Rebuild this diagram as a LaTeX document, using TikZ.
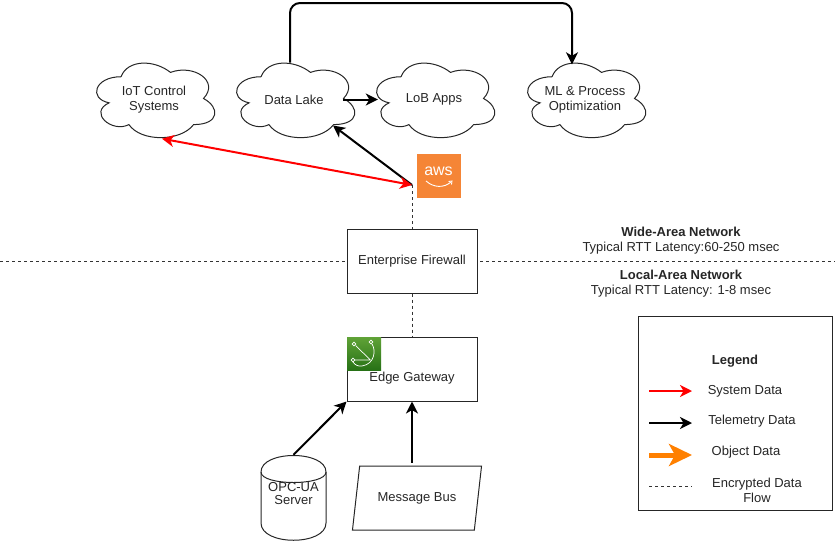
\documentclass[tikz,border=0pt]{standalone}
\usepackage{fontspec}
\setmainfont{Liberation Sans}
\usepackage{xcolor}
\usepackage{tikz}
\usetikzlibrary{arrows.meta}
\usetikzlibrary{shapes.geometric}

\definecolor{awsorange}{HTML}{F58536}
\definecolor{greenlight}{HTML}{60A337}
\definecolor{greendark}{HTML}{277116}
\definecolor{inkgray}{HTML}{262626}

\tikzset{
	label/.style={font=\fontsize{13}{15}\selectfont,text=inkgray,align=center},
	box/.style={draw=inkgray,line width=1pt,fill=white,label},
	cloudtext/.style={label,minimum width=100pt,minimum height=78pt},
	tip/.style={-{Stealth[length=12pt,width=12pt,inset=3.5pt]}},
	feed/.style={black,line width=2pt,tip},
	sysfeed/.style={red,line width=2pt,tip},
	objfeed/.style={orange,line width=5pt,-{Stealth[length=23pt,width=22pt,inset=6pt]}},
	tunnel/.style={black!80,line width=1pt,dash pattern=on 3pt off 3pt},
}

\begin{document}
\begin{tikzpicture}[x=1pt,y=-1pt]
	\useasboundingbox (0,0) rectangle (835,544);
	% clouds
	\foreach \x/\name/\txt in {88/iot/{IoT Control\\Systems},228/lake/{Data Lake},368/lob/{LoB Apps},519/ml/{ML \& Process\\Optimization}}{
		\draw[inkgray,line width=1pt,shift={(\x,55)},x=1.32pt,y=-0.87pt]
			(25,25) .. controls (5,25) and (0,50) .. (16,55)
			.. controls (0,66) and (18,90) .. (31,80)
			.. controls (40,100) and (70,100) .. (80,80)
			.. controls (100,80) and (100,60) .. (87.5,50)
			.. controls (100,30) and (80,10) .. (62.5,20)
			.. controls (50,5) and (30,5) .. (25,25);
		\node[cloudtext] (\name) at (\x+66,99.5) {\txt};
	}

	% network boundary
	\draw[tunnel] (0,261) -- (835,261);

	\node[box,minimum width=130pt,minimum height=64pt] (firewall) at (412,261) {Enterprise Firewall};
	\node[box,minimum width=130pt,minimum height=64pt] (gateway) at (412,369) {\raisebox{-12pt}[0pt][0pt]{Edge Gateway}};

	% aws badge
	\node[fill=awsorange,minimum size=44pt,inner sep=0pt] (aws) at (439,175.5) {};
	\node[inner sep=0pt,text=white,font=\fontsize{16}{16}\selectfont] (awstext) at (438.5,171) {aws};
	\draw[white,line width=0.9pt] (426,181) .. controls (434,188) and (444,188) .. (451,182);
	\draw[white,line width=0.9pt] (448.5,181.5) -- (452,181) -- (451.5,184.5);
	\coordinate (uplink) at (412,185);

	% edge icon
	\node[minimum width=34pt,minimum height=33pt,inner sep=0pt,top color=greenlight,bottom color=greendark] (greengrass) at (364,353.5) {};
	\coordinate (iconhub) at (370.5,360);
	\draw[white,line width=0.7pt] (354,344) circle (1.8pt) (371,342) circle (1.8pt) (353,360) circle (1.8pt);
	\draw[white,line width=0.7pt] (355.5,345.5) -- (iconhub) (355,360) -- (iconhub);
	\draw[white,line width=0.7pt] (372,344) .. controls (376,350) and (375,364) .. (362,366) .. controls (358,366.5) and (355,365) .. (353,362);

	% sources
	\draw[inkgray,line width=1pt] (261,472) .. controls (261,450) and (326,450) .. (326,472)
		-- (326,523) .. controls (326,546) and (261,546) .. (261,523) -- cycle;
	\draw[inkgray,line width=1pt] (261,472) .. controls (261,486) and (326,486) .. (326,472);
	\node[label,minimum width=65pt,minimum height=86pt,inner sep=0pt,text depth=0pt] (opc) at (293.5,498) {\raisebox{-6pt}[0pt][0pt]{\shortstack{OPC-UA\\Server}}};
	\node[trapezium,trapezium left angle=67,trapezium right angle=113,trapezium stretches=true,draw=inkgray,line width=1pt,label,minimum width=130pt,minimum height=64pt,inner sep=0pt] (bus) at (417,498) {Message Bus};

	% links
	\coordinate (lakeout) at ([xshift=-4pt,yshift=37pt]lake.center);
	\coordinate (overhead) at (430,3);
	\coordinate (mlin) at ([xshift=-13pt,yshift=-4pt]ml.north);
	\draw[feed,rounded corners=10pt] (lakeout) |- (overhead) -| (mlin);
	\draw[feed] ([xshift=-1pt]lake.east) -- ([xshift=-6pt]lob.west);
	\draw[feed] (uplink) -- ([shift={(39,26)}]lake.center);
	\draw[sysfeed,{Stealth[length=12pt,width=12pt,inset=3.5pt]}-{Stealth[length=12pt,width=12pt,inset=3.5pt]}] (uplink) -- ([xshift=8pt]iot.south);
	\draw[tunnel] (uplink) -- (firewall.north);
	\draw[tunnel] (firewall.south) -- (gateway.north);
	\draw[feed] (opc.north) -- (gateway.south west);
	\draw[feed] ([yshift=3pt]bus.north -| gateway.south) -- (gateway.south);

	% network captions
	\node[label] (wan) at (681,241) {\textbf{Wide-Area Network}\\Typical RTT Latency:60-250 msec};
	\node[label] (lan) at (681,283.5) {\textbf{Local-Area Network}\\Typical RTT Latency: 1-8 msec};

	% legend
	\node[box,minimum width=194pt,minimum height=194pt] (legend) at (735,413) {};
	\node[label] (legendtitle) at (735,361.5) {\textbf{Legend}};
	\node[label] (systxt) at (745,391.5) {System Data};
	\node[label] (teltxt) at (752,421) {Telemetry Data};
	\node[label] (objtxt) at (746,452) {Object Data};
	\node[label] (enctxt) at (757,490) {Encrypted Data\\Flow};
	\foreach \y/\name/\sty in {391/sys/sysfeed,423/tel/feed,455/obj/objfeed,486/enc/tunnel}{
		\coordinate (\name a) at (649,\y);
		\coordinate (\name b) at (692,\y);
		\draw[\sty] (\name a) -- (\name b);
	}
\end{tikzpicture}
\end{document}
